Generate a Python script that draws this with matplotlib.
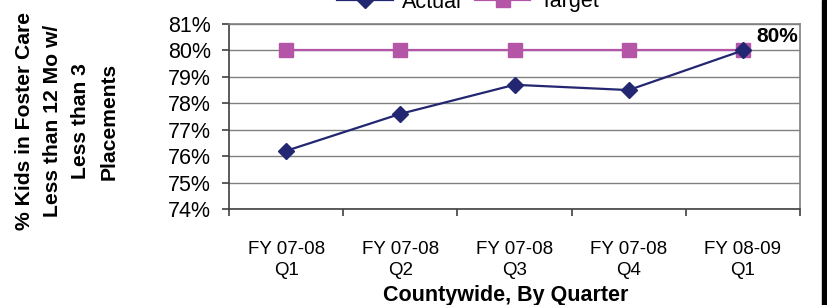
import matplotlib.pyplot as plt
from matplotlib.lines import Line2D
from matplotlib.patches import Rectangle

# Data
quarters = ["FY 07-08\nQ1", "FY 07-08\nQ2", "FY 07-08\nQ3", "FY 07-08\nQ4", "FY 08-09\nQ1"]
actual = [76.2, 77.6, 78.7, 78.5, 80.0]
target = [80, 80, 80, 80, 80]
y_ticks = [74, 75, 76, 77, 78, 79, 80, 81]

plt.rcParams["font.family"] = ["Liberation Sans", "DejaVu Sans"]

fig = plt.figure(figsize=(8.27, 3.05), dpi=100)
ax = fig.add_axes([229 / 827, 1 - 209 / 305, (800 - 229) / 827, (209 - 24) / 305])

x = range(len(quarters))
navy = "#232670"
pink = "#b455a8"

ax.plot(x, target, color=pink, lw=1.6, marker="s", markersize=10, label="Target", zorder=3)
ax.plot(x, actual, color=navy, lw=1.6, marker="D", markersize=8, label="Actual", zorder=4)

ax.set_xlim(-0.5, len(quarters) - 0.5)
ax.set_ylim(74, 81)
ax.set_yticks(y_ticks)
ax.set_yticklabels(["{}%".format(v) for v in y_ticks], fontsize=15.5)
ax.yaxis.grid(True, color="#808080", lw=1)
ax.set_axisbelow(True)

ax.set_xticks(list(x))
ax.set_xticklabels(quarters, fontsize=13.5, linespacing=1.35)
ax.tick_params(axis="x", which="major", length=0, pad=23)
ax.set_xticks([i - 0.5 for i in range(len(quarters) + 1)], minor=True)
ax.tick_params(axis="x", which="minor", length=5, color="#404040", width=1.2)
ax.tick_params(axis="y", length=5, color="#404040", width=1.2, pad=8)

for side in ["top", "right"]:
    ax.spines[side].set_color("#808080")
    ax.spines[side].set_linewidth(1.2)
for side in ["left", "bottom"]:
    ax.spines[side].set_color("#404040")
    ax.spines[side].set_linewidth(1.2)

ax.set_xlabel("Countywide, By Quarter", fontsize=15.5, fontweight="bold", va="center")
ax.xaxis.set_label_coords((506 - 229) / 571, (209 - 295) / 185)

fig.text(67 / 827, 1 - 121 / 305,
         "% Kids in Foster Care\nLess than 12 Mo w/\nLess than 3\nPlacements",
         rotation=90, ha="center", va="center", multialignment="center",
         fontsize=15.2, fontweight="bold", linespacing=1.6)

ax.annotate("80%", xy=(len(quarters) - 1, actual[-1]), xytext=(10, 3),
            textcoords="offset points", ha="left", va="bottom",
            fontsize=15, fontweight="bold")

handles = [
    Line2D([], [], color=navy, lw=1.6, marker="D", markersize=8),
    Line2D([], [], color=pink, lw=1.6, marker="s", markersize=10),
]
fig.legend(handles, ["Actual", "Target"], loc="center", ncol=2,
           bbox_to_anchor=(468 / 827, 1 - 2 / 305), frameon=False,
           fontsize=15.5, handlelength=2.6, columnspacing=0.6, handletextpad=0.4)

fig.add_artist(Rectangle((822 / 827, 0), 5 / 827, 1, transform=fig.transFigure,
                         color="black"))

fig.savefig("out.png", dpi=100)
